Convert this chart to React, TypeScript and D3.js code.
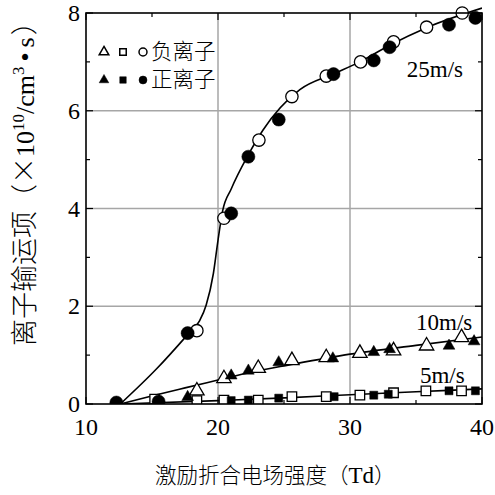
import React, { useEffect, useRef } from 'react';
import * as d3 from 'd3';

// 25 m/s (circles)
const c25OpenX = [18.4, 20.45, 23.1, 25.6, 28.2, 30.8, 33.3, 35.8, 38.5];
const c25OpenY = [1.5, 3.8, 5.4, 6.29, 6.71, 7.0, 7.41, 7.71, 8.0];
const c25FillX = [12.3, 15.5, 17.7, 21.0, 22.3, 24.6, 28.75, 31.8, 33.0, 37.5, 39.5];
const c25FillY = [0.03, 0.05, 1.45, 3.9, 5.06, 5.82, 6.75, 7.03, 7.3, 7.76, 7.9];

// 10 m/s (triangles)
const t10OpenX = [18.4, 20.45, 23.05, 25.6, 28.2, 30.75, 33.3, 35.8, 38.45];
const t10OpenY = [0.25, 0.5, 0.71, 0.87, 0.93, 1.02, 1.07, 1.17, 1.34];
const t10FillX = [17.7, 21.0, 22.3, 24.6, 28.7, 31.8, 33.0, 37.5, 39.4];
const t10FillY = [0.12, 0.56, 0.66, 0.83, 0.91, 1.04, 1.1, 1.17, 1.26];

// 5 m/s (squares)
const s5OpenX = [15.2, 18.4, 20.45, 23.05, 25.6, 28.2, 30.75, 33.3, 35.75, 38.45];
const s5OpenY = [0.1, 0.07, 0.08, 0.08, 0.15, 0.15, 0.18, 0.23, 0.27, 0.27];
const s5FillX = [21.0, 22.3, 24.6, 28.8, 31.8, 32.9, 37.5, 39.5];
const s5FillY = [0.07, 0.08, 0.12, 0.15, 0.18, 0.2, 0.27, 0.27];

// fitted curves
const fit25X = [12.6, 15.35, 17.7, 18.6, 19.1, 19.65, 20.0, 20.35, 21.0, 22.3, 23.4, 26.2, 28.7, 30.75, 33, 35.8, 40];
const fit25Y = [0, 0.72, 1.42, 1.7, 2.02, 2.67, 3.35, 3.95, 4.4, 5.1, 5.6, 6.43, 6.75, 7.0, 7.34, 7.7, 8.1];
const fit10X = [12.6, 15.2, 17.5, 20, 22.5, 25.4, 30, 35, 40];
const fit10Y = [0, 0.18, 0.33, 0.49, 0.65, 0.8, 1.02, 1.2, 1.37];
const fit5X = [12.6, 20, 25.5, 30, 35, 40];
const fit5Y = [0, 0.07, 0.13, 0.19, 0.25, 0.31];

const speedLabels = ['25m/s', '10m/s', '5m/s'];
const speedLabelX = [34.3, 35, 35.3];
const speedLabelY = [6.69, 1.51, 0.43];

const xTicks = [10, 20, 30, 40];
const xMinor = [15, 25, 35];
const yTicks = [0, 2, 4, 6, 8];
const yMinor = [1, 3, 5, 7];
const gridX = [20, 30];
const gridY = [2, 4, 6];

const legendNeg = '负离子';
const legendPos = '正离子';
const xTitleMain = '激励折合电场强度';
const xTitleUnit = ['（', 'Td', '）'];
// y title pieces: text, font, size, raise
const yTitleParts: [string, 'cjk' | 'serif', number, number][] = [
  ['离子输运项', 'cjk', 27, 0],
  ['（', 'cjk', 27, 0],
  ['×', 'cjk', 27, 0],
  ['10', 'serif', 26, 0],
  ['10', 'serif', 17, 10],
  ['/cm', 'serif', 26, 0],
  ['3', 'serif', 17, 10],
  ['•', 'serif', 26, 0],
  ['s', 'serif', 26, 0],
  ['）', 'cjk', 27, 0],
];

const SERIF = "'Liberation Serif', 'Times New Roman', serif";
const CJK = "'Noto Sans CJK SC', sans-serif";

const zip = (xs: number[], ys: number[]) => xs.map((x, i) => [x, ys[i]] as [number, number]);

const App = () => {
  const ref = useRef<SVGSVGElement>(null);

  useEffect(() => {
    if (!ref.current) return;
    const W = 495;
    const H = 495;
    const margin = { left: 86, right: 13, top: 13, bottom: 91 };

    const x = d3.scaleLinear().domain([10, 40]).range([margin.left, W - margin.right]);
    const y = d3.scaleLinear().domain([0, 8]).range([H - margin.bottom, margin.top]);

    const svg = d3.select(ref.current);
    svg.selectAll('*').remove();

    svg.append('rect').attr('width', W).attr('height', H).attr('fill', '#fff');

    svg
      .append('defs')
      .append('clipPath')
      .attr('id', 'plot-clip')
      .append('rect')
      .attr('x', x(10))
      .attr('y', y(8) - 8)
      .attr('width', x(40) - x(10))
      .attr('height', y(0) - y(8) + 8);

    // grid
    svg
      .append('g')
      .selectAll('line')
      .data(gridX)
      .join('line')
      .attr('x1', (d) => x(d))
      .attr('x2', (d) => x(d))
      .attr('y1', y(0))
      .attr('y2', y(8))
      .attr('stroke', '#a6a6a6')
      .attr('stroke-width', 1.5);
    svg
      .append('g')
      .selectAll('line')
      .data(gridY)
      .join('line')
      .attr('y1', (d) => y(d))
      .attr('y2', (d) => y(d))
      .attr('x1', x(10))
      .attr('x2', x(40))
      .attr('stroke', '#a6a6a6')
      .attr('stroke-width', 1.5);

    // inward ticks on all four sides
    const tk = svg.append('g').attr('stroke', '#000').attr('stroke-width', 1.2);
    const xt = [...xTicks.map((v) => ({ v, l: 7 })), ...xMinor.map((v) => ({ v, l: 4 }))];
    const yt = [...yTicks.map((v) => ({ v, l: 7 })), ...yMinor.map((v) => ({ v, l: 4 }))];
    xt.forEach(({ v, l }) => {
      tk.append('line').attr('x1', x(v)).attr('x2', x(v)).attr('y1', y(0)).attr('y2', y(0) - l);
      tk.append('line').attr('x1', x(v)).attr('x2', x(v)).attr('y1', y(8)).attr('y2', y(8) + l);
    });
    yt.forEach(({ v, l }) => {
      tk.append('line').attr('y1', y(v)).attr('y2', y(v)).attr('x1', x(10)).attr('x2', x(10) + l);
      tk.append('line').attr('y1', y(v)).attr('y2', y(v)).attr('x1', x(40)).attr('x2', x(40) - l);
    });

    // curves
    const line = d3
      .line<[number, number]>()
      .x((d) => x(d[0]))
      .y((d) => y(d[1]))
      .curve(d3.curveMonotoneX);
    const plot = svg.append('g').attr('clip-path', 'url(#plot-clip)');
    [zip(fit25X, fit25Y), zip(fit10X, fit10Y), zip(fit5X, fit5Y)].forEach((pts) => {
      plot
        .append('path')
        .attr('d', line(pts))
        .attr('fill', 'none')
        .attr('stroke', '#000')
        .attr('stroke-width', 1.6);
    });

    // markers
    const sym = (type: d3.SymbolType, size: number) => d3.symbol().type(type).size(size)();
    const addPts = (
      pts: [number, number][],
      type: d3.SymbolType,
      size: number,
      filled: boolean,
      dy = 0,
    ) => {
      plot
        .append('g')
        .selectAll('path')
        .data(pts)
        .join('path')
        .attr('transform', (d) => `translate(${x(d[0])},${y(d[1]) + dy})`)
        .attr('d', sym(type, size))
        .attr('fill', filled ? '#000' : '#fff')
        .attr('stroke', '#000')
        .attr('stroke-width', filled ? 0.5 : 1.3);
    };
    addPts(zip(s5OpenX, s5OpenY), d3.symbolSquare, 90, false);
    addPts(zip(s5FillX, s5FillY), d3.symbolSquare, 64, true);
    addPts(zip(t10OpenX, t10OpenY), d3.symbolTriangle, 90, false, -1);
    addPts(zip(t10FillX, t10FillY), d3.symbolTriangle, 60, true, -1);
    addPts(zip(c25OpenX, c25OpenY), d3.symbolCircle, 120, false);
    addPts(zip(c25FillX, c25FillY), d3.symbolCircle, 135, true);

    // frame
    svg
      .append('rect')
      .attr('x', x(10))
      .attr('y', y(8))
      .attr('width', x(40) - x(10))
      .attr('height', y(0) - y(8))
      .attr('fill', 'none')
      .attr('stroke', '#000')
      .attr('stroke-width', 1.6);

    // tick labels
    svg
      .append('g')
      .selectAll('text')
      .data(xTicks)
      .join('text')
      .attr('x', (d) => x(d))
      .attr('y', y(0) + 31)
      .attr('text-anchor', 'middle')
      .attr('font-family', SERIF)
      .attr('font-size', 24)
      .text((d) => d);
    svg
      .append('g')
      .selectAll('text')
      .data(yTicks)
      .join('text')
      .attr('x', x(10) - 6)
      .attr('y', (d) => y(d) + 8)
      .attr('text-anchor', 'end')
      .attr('font-family', SERIF)
      .attr('font-size', 24)
      .text((d) => d);

    // speed labels
    svg
      .append('g')
      .selectAll('text')
      .data(speedLabels)
      .join('text')
      .attr('x', (d, i) => x(speedLabelX[i]))
      .attr('y', (d, i) => y(speedLabelY[i]))
      .attr('font-family', SERIF)
      .attr('font-size', 23)
      .text((d) => d);

    // legend
    const lg = svg.append('g');
    const rows: [number, boolean, string][] = [
      [52, false, legendNeg],
      [80, true, legendPos],
    ];
    rows.forEach(([ly, filled, label]) => {
      const items: [number, d3.SymbolType, number][] = [
        [104, d3.symbolTriangle, 40],
        [123, d3.symbolSquare, 42],
        [143, d3.symbolCircle, 50],
      ];
      items.forEach(([lx, type, size]) => {
        lg.append('path')
          .attr('transform', `translate(${lx},${ly})`)
          .attr('d', sym(type, size))
          .attr('fill', filled ? '#000' : '#fff')
          .attr('stroke', '#000')
          .attr('stroke-width', filled ? 0.5 : 1.5);
      });
      lg.append('text')
        .attr('x', 151)
        .attr('y', ly + 7)
        .attr('font-family', CJK)
        .attr('font-weight', 300)
        .attr('font-size', 21.5)
        .text(label);
    });

    // x title
    const xtT = svg
      .append('text')
      .attr('x', 155)
      .attr('y', 483)
      .attr('font-family', CJK)
      .attr('font-weight', 300)
      .attr('font-size', 21.5);
    xtT.append('tspan').text(xTitleMain);
    xtT.append('tspan').text(xTitleUnit[0]);
    xtT.append('tspan').attr('font-family', SERIF).attr('font-size', 23).text(xTitleUnit[1]);
    xtT.append('tspan').text(xTitleUnit[2]);

    // y title, rotated
    const ytT = svg
      .append('text')
      .attr('transform', 'translate(34,346) rotate(-90)')
      .attr('font-weight', 300);
    let raised = 0;
    yTitleParts.forEach(([t, f, s, r]) => {
      ytT
        .append('tspan')
        .attr('font-family', f === 'cjk' ? CJK : SERIF)
        .attr('font-size', s)
        .attr('dy', raised - r)
        .attr('dx', t === '•' || t === 's' ? 5 : t === '）' ? 2 : 0)
        .text(t);
      raised = r;
    });
  }, []);

  return <svg ref={ref} width={495} height={495} style={{ display: 'block', position: 'absolute', left: 0, top: 0 }} />;
};

export default App;
